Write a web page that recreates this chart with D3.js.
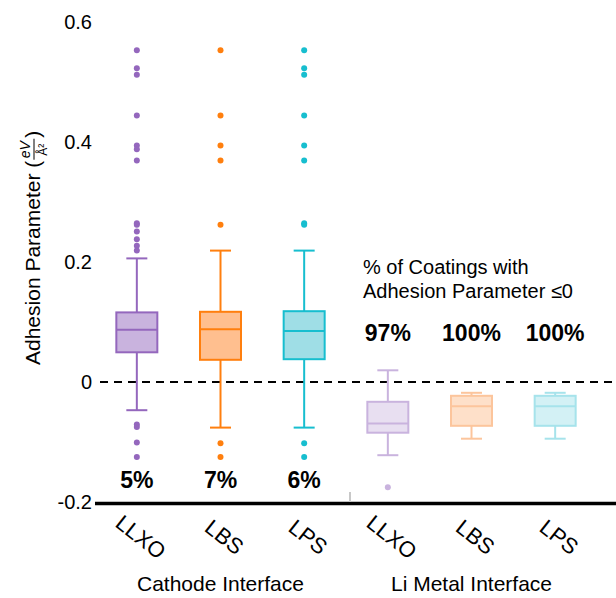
<!DOCTYPE html>
<html>
<head>
<meta charset="utf-8">
<style>
  body { margin: 0; background: #fff; font-family: "Liberation Sans", Arial, Helvetica, sans-serif; }
  text { font-family: "Liberation Sans", Arial, Helvetica, sans-serif; }
  .tick-label { font-size: 20px; fill: #000; }
  .cat-label { font-size: 22px; fill: #000; }
  .pct { font-size: 23px; font-weight: bold; fill: #000; }
</style>
<script src="https://d3js.org/d3.v7.min.js"></script>
</head>
<body>
<div id="chart"></div>
<script>
// categories and groups
var categories = ["LLXO", "LBS", "LPS", "LLXO", "LBS", "LPS"];
var groups = ["Cathode Interface", "Li Metal Interface"];
var yTicks = [-0.2, 0, 0.2, 0.4, 0.6];
var yTickLabels = ["-0.2", "0", "0.2", "0.4", "0.6"];

// box statistics
var whiskerHi = [0.206, 0.219, 0.219, 0.0195, -0.018, -0.018];
var q3 = [0.116, 0.117, 0.118, -0.033, -0.023, -0.023];
var median = [0.087, 0.088, 0.085, -0.069, -0.0405, -0.0405];
var q1 = [0.0495, 0.037, 0.038, -0.0845, -0.073, -0.073];
var whiskerLo = [-0.047, -0.076, -0.076, -0.122, -0.0945, -0.0945];
var outliers = [
  [0.553, 0.523, 0.512, 0.444, 0.394, 0.388, 0.369, 0.2645, 0.262, 0.251, 0.238, 0.227, 0.219, -0.071, -0.075, -0.101, -0.125],
  [0.553, 0.444, 0.394, 0.369, 0.262, -0.102, -0.125],
  [0.553, 0.523, 0.512, 0.444, 0.394, 0.369, 0.2645, 0.262, -0.102, -0.125],
  [-0.1755],
  [],
  []
];
var pctLabels = ["5%", "7%", "6%", "97%", "100%", "100%"];

var strokeColors = ["#9467bd", "#ff7f0e", "#17becf", "#c9b3de", "#fcc59c", "#a6e3eb"];
var fillColors = ["#c9b3de", "#ffbf8f", "#9fdee6", "#e8dff1", "#fee0c9", "#d3f1f5"];

var W = 616, H = 598;
var svg = d3.select("#chart").append("svg").attr("width", W).attr("height", H);

var x = d3.scaleBand().domain(d3.range(categories.length)).range([95, 597]);
var y = d3.scaleLinear().domain([-0.2, 0.6]).range([502, 22]);
var bw = 41, cap = 21;

// y tick labels
svg.selectAll(".tick-label").data(yTicks).enter().append("text")
  .attr("class", "tick-label")
  .attr("x", 92).attr("y", function(d) { return y(d); })
  .attr("dy", "0.35em").attr("text-anchor", "end")
  .text(function(d, i) { return yTickLabels[i]; });

// zero dashed line
svg.append("line").attr("x1", 100).attr("x2", W).attr("y1", y(0)).attr("y2", y(0))
  .attr("stroke", "#000").attr("stroke-width", 1.8).attr("stroke-dasharray", "8,6");

// bottom axis
svg.append("line").attr("x1", 95).attr("x2", W).attr("y1", y(-0.2) + 1.5).attr("y2", y(-0.2) + 1.5)
  .attr("stroke", "#000").attr("stroke-width", 3.5);
var divX = (x(2) + x.bandwidth() + x(3)) / 2 + 4;
svg.append("line").attr("x1", divX).attr("x2", divX).attr("y1", y(-0.2) - 10).attr("y2", y(-0.2))
  .attr("stroke", "#c8c8c8").attr("stroke-width", 2);

// boxes
var g = svg.selectAll(".box").data(categories).enter().append("g").attr("class", "box")
  .attr("transform", function(d, i) { return "translate(" + (x(i) + x.bandwidth() / 2) + ",0)"; });

g.append("line").attr("x1", 0).attr("x2", 0)
  .attr("y1", function(d, i) { return y(whiskerHi[i]); })
  .attr("y2", function(d, i) { return y(q3[i]); })
  .attr("stroke", function(d, i) { return strokeColors[i]; }).attr("stroke-width", 2);
g.append("line").attr("x1", 0).attr("x2", 0)
  .attr("y1", function(d, i) { return y(q1[i]); })
  .attr("y2", function(d, i) { return y(whiskerLo[i]); })
  .attr("stroke", function(d, i) { return strokeColors[i]; }).attr("stroke-width", 2);
g.append("line").attr("x1", -cap / 2).attr("x2", cap / 2)
  .attr("y1", function(d, i) { return y(whiskerHi[i]); })
  .attr("y2", function(d, i) { return y(whiskerHi[i]); })
  .attr("stroke", function(d, i) { return strokeColors[i]; }).attr("stroke-width", 2);
g.append("line").attr("x1", -cap / 2).attr("x2", cap / 2)
  .attr("y1", function(d, i) { return y(whiskerLo[i]); })
  .attr("y2", function(d, i) { return y(whiskerLo[i]); })
  .attr("stroke", function(d, i) { return strokeColors[i]; }).attr("stroke-width", 2);
g.append("rect").attr("x", -bw / 2).attr("width", bw)
  .attr("y", function(d, i) { return y(q3[i]); })
  .attr("height", function(d, i) { return y(q1[i]) - y(q3[i]); })
  .attr("fill", function(d, i) { return fillColors[i]; })
  .attr("stroke", function(d, i) { return strokeColors[i]; }).attr("stroke-width", 2);
g.append("line").attr("x1", -bw / 2).attr("x2", bw / 2)
  .attr("y1", function(d, i) { return y(median[i]); })
  .attr("y2", function(d, i) { return y(median[i]); })
  .attr("stroke", function(d, i) { return strokeColors[i]; }).attr("stroke-width", 2);
g.each(function(d, i) {
  d3.select(this).selectAll("circle").data(outliers[i]).enter().append("circle")
    .attr("cx", 0).attr("cy", function(v) { return y(v); }).attr("r", 3)
    .attr("fill", strokeColors[i]);
});

// percentage labels
svg.selectAll(".pct").data(pctLabels).enter().append("text")
  .attr("class", "pct").attr("text-anchor", "middle")
  .attr("x", function(d, i) { return x(i) + x.bandwidth() / 2; })
  .attr("y", function(d, i) { return i < 3 ? 488 : 341; })
  .text(function(d) { return d; });

svg.append("text").attr("x", 363).attr("y", 274).attr("font-size", 20).text("% of Coatings with");
svg.append("text").attr("x", 363).attr("y", 298).attr("font-size", 20).text("Adhesion Parameter \u22640");

// category labels
svg.selectAll(".cat-label").data(categories).enter().append("text")
  .attr("class", "cat-label").attr("text-anchor", "middle")
  .attr("transform", function(d, i) { return "translate(" + (x(i) + x.bandwidth() / 2 + 4) + ",537) rotate(38)"; })
  .attr("dy", "0.35em")
  .text(function(d) { return d; });

// group labels
svg.selectAll(".group-label").data(groups).enter().append("text")
  .attr("class", "group-label").attr("text-anchor", "middle").attr("font-size", 21)
  .attr("x", function(d, i) { return (x(i * 3) + x(i * 3 + 2) + x.bandwidth()) / 2; })
  .attr("y", 591)
  .text(function(d) { return d; });

// y axis title with fraction
var yt = svg.append("g").attr("transform", "translate(40,261) rotate(-90)");
var main = yt.append("text").attr("x", -104).attr("y", 0).attr("font-size", 21).text("Adhesion Parameter (");
var len = main.node().getComputedTextLength();
var fx = -104 + len + 1;
yt.append("text").attr("x", fx + 10).attr("y", -10).attr("font-size", 14).attr("font-style", "italic")
  .attr("text-anchor", "middle").attr("font-family", "DejaVu Serif, serif").text("eV");
yt.append("line").attr("x1", fx).attr("x2", fx + 21).attr("y1", -6).attr("y2", -6).attr("stroke", "#000").attr("stroke-width", 1);
yt.append("text").attr("x", fx + 10).attr("y", 7).attr("font-size", 12)
  .attr("text-anchor", "middle").attr("font-family", "DejaVu Serif, serif").text("\u00c5\u00b2");
yt.append("text").attr("x", fx + 22).attr("y", 0).attr("font-size", 21).text(")");
</script>
</body>
</html>
